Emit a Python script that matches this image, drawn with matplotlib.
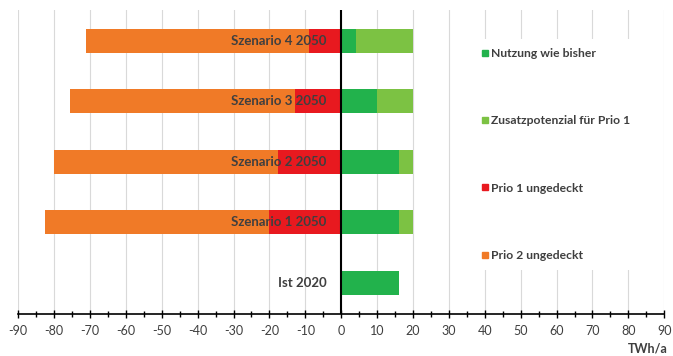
import matplotlib
matplotlib.use("Agg")
import matplotlib.pyplot as plt
from matplotlib.lines import Line2D
import numpy as np

categories = ["Ist 2020", "Szenario 1 2050", "Szenario 2 2050", "Szenario 3 2050", "Szenario 4 2050"]
nutzung = [16, 16, 16, 10, 4]
zusatz = [0, 4, 4, 10, 16]
prio1 = [0, -20, -17.5, -13, -9]
prio2 = [0, -62.5, -62.5, -62.5, -62]
series_names = ["Nutzung wie bisher", "Zusatzpotenzial für Prio 1", "Prio 1 ungedeckt", "Prio 2 ungedeckt"]
colors = ["#22b24c", "#7cc243", "#e8191f", "#f07a27"]
xticks = list(range(-90, 91, 10))
xlabel = "TWh/a"

plt.rcParams['font.family'] = ['Lato', 'DejaVu Sans']
fig = plt.figure(figsize=(6.73, 3.56), dpi=100)
ax = fig.add_axes([0.027, 0.118, 0.96, 0.855])

y = np.arange(len(categories))
h = 0.4
ax.barh(y, nutzung, height=h, color=colors[0], zorder=2)
ax.barh(y, zusatz, left=nutzung, height=h, color=colors[1], zorder=2)
ax.barh(y, prio1, height=h, color=colors[2], zorder=2)
ax.barh(y, prio2, left=prio1, height=h, color=colors[3], zorder=2)

for yi, c in zip(y, categories):
    ax.text(-4, yi, c, ha="right", va="center", fontsize=9.5, fontweight="bold",
            color="#3f3f3f", zorder=3)

ax.set_xlim(-90, 90)
ax.set_ylim(-0.52, 4.52)
ax.set_xticks(xticks)
ax.set_xticklabels([str(t) for t in xticks], fontsize=9, color="#3f3f3f")
ax.set_xticks(np.arange(-85, 90, 10), minor=True)
ax.tick_params(axis="x", which="major", direction="inout", length=6, width=1, pad=5)
ax.tick_params(axis="x", which="minor", direction="inout", length=4, width=1)
ax.set_yticks([])
ax.grid(axis="x", which="major", color="#d9d9d9", linewidth=0.8, zorder=0)
ax.set_axisbelow(True)
for s in ["top", "left", "right"]:
    ax.spines[s].set_visible(False)
ax.spines["bottom"].set_linewidth(1.2)
ax.axvline(0, color="black", linewidth=1.5, zorder=4)

fig.text(0.992, 0.005, xlabel, ha="right", va="bottom", fontsize=9, fontweight="bold", color="#3f3f3f")

handles = [Line2D([0], [0], marker="s", linestyle="none", markersize=5,
                  markerfacecolor=c, markeredgecolor=c) for c in colors]
leg = ax.legend(handles, series_names, loc="upper left", bbox_to_anchor=(0.7, 0.905),
                frameon=True, facecolor="white", edgecolor="none", framealpha=1,
                fontsize=8.7, labelspacing=4.65, handletextpad=0.1, handlelength=0.8,
                borderaxespad=0, borderpad=0.8)
for t in leg.get_texts():
    t.set_color("#3f3f3f")
    t.set_fontweight("bold")
leg.set_zorder(5)

fig.savefig("out.png", dpi=100)
